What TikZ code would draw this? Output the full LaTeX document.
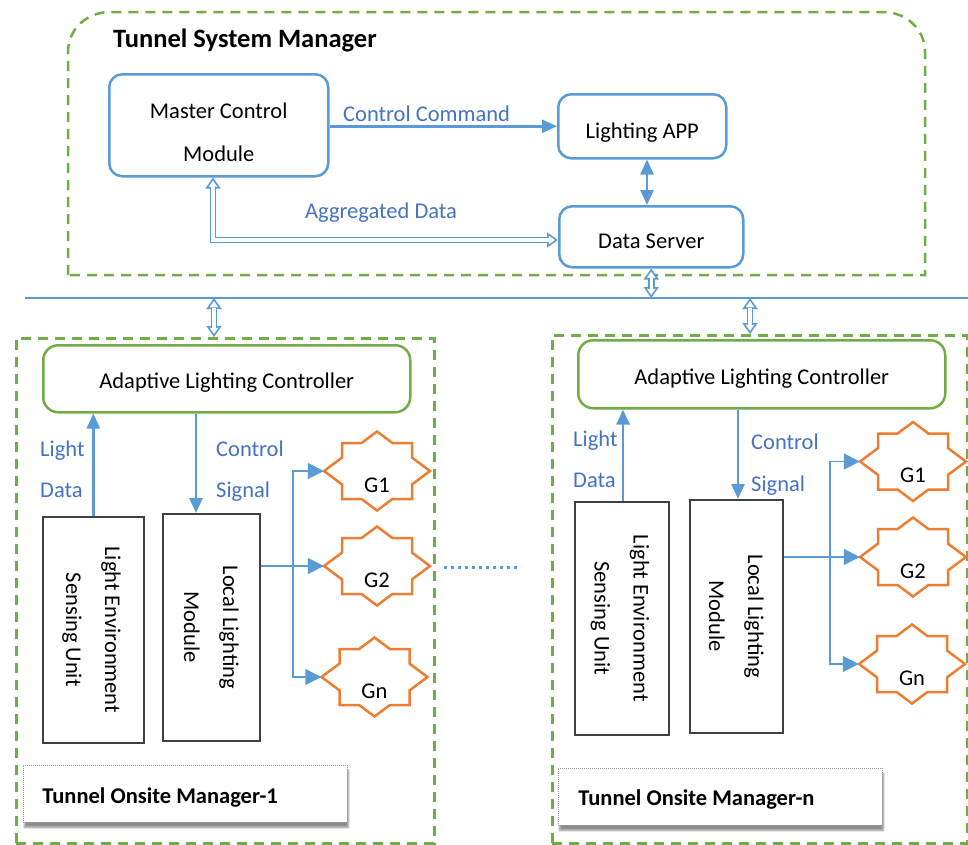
\documentclass[tikz,border=0pt]{standalone}
\usepackage{fontspec}
\setmainfont{Carlito}
\usepackage{graphicx}
\usetikzlibrary{arrows.meta,shadows.blur,calc}

\definecolor{lineblue}{HTML}{5B9BD5}
\definecolor{textblue}{HTML}{4472C4}
\definecolor{boxgreen}{HTML}{70AD47}
\definecolor{staror}{HTML}{ED7D31}
\definecolor{boxgray}{HTML}{404040}

\newcommand{\bodyfont}{\fontsize{22.5}{43}\selectfont}
\newcommand{\vertfont}{\fontsize{22.5}{39}\selectfont}
\newcommand{\titlefont}{\bfseries\fontsize{26.5}{32}\selectfont}
\newcommand{\tomfont}{\bfseries\fontsize{22.5}{27}\selectfont}

% two-line text turned to read from top to bottom
\newcommand{\vtext}[2]{\rotatebox{-90}{\vertfont\begin{tabular}{@{}c@{}}#1\\#2\end{tabular}}}

% eight-point lamp outline round a node centre
\newcommand{\gstar}[1]{%
  \draw[starline, shift={(#1.center)}]
    (-53,0) -- (-35,-13.4) -- (-35,-28) -- (-15.4,-28) -- (0,-39.5)
    -- (15.4,-28) -- (35,-28) -- (35,-13.4) -- (53,0)
    -- (35,13.4) -- (35,28) -- (15.4,28) -- (0,39.5)
    -- (-15.4,28) -- (-35,28) -- (-35,13.4) -- cycle;}

% hollow two-headed link: outlined heads first, then the double shaft over them
\newcommand{\hollowlink}[1]{%
  \draw[hollowtip] #1;
  \draw[hollowshaft] #1;}

\begin{document}
\begin{tikzpicture}[x=1pt,y=-1pt,
  container/.style={draw=boxgreen, line width=2.5pt, dash pattern=on 10pt off 7pt},
  cbox/.style={draw=boxgreen, line width=2.5pt, dash pattern=on 10pt off 7pt,
    anchor=north west, inner sep=0pt},
  bluebox/.style={draw=lineblue, line width=2.5pt, rounded corners=13pt, fill=white,
    font=\bodyfont, align=center, inner sep=0pt, anchor=north west},
  greenbox/.style={draw=boxgreen, line width=2.5pt, rounded corners=15pt, fill=white,
    font=\bodyfont, inner sep=0pt, anchor=north west},
  unitbox/.style={draw=boxgray, line width=1.6pt, fill=white, inner sep=0pt, anchor=north west},
  gnode/.style={minimum width=106pt, minimum height=80pt, inner sep=0pt,
    font=\bodyfont, text height=42pt, text depth=0pt},
  starline/.style={draw=staror, line width=2.5pt, line join=miter},
  lbl/.style={text=textblue, font=\bodyfont, inner sep=0pt, anchor=base west},
  baseoff/.style={text height=#1, text depth=0pt},
  flow/.style={draw=lineblue, line width=2.5pt, -{Triangle[length=15pt,width=13pt]}},
  flowboth/.style={draw=lineblue, line width=2.5pt,
    {Triangle[length=15pt,width=13pt]}-{Triangle[length=15pt,width=13pt]}},
  branch/.style={draw=lineblue, line width=1.5pt, -{Triangle[length=16pt,width=16pt]}},
  hollowtip/.style={draw=lineblue, line width=1.6pt, line join=miter,
    {Triangle[fill=white, length=11pt, width=15pt]}-{Triangle[fill=white, length=11pt, width=15pt]}},
  hollowshaft/.style={draw=lineblue, line width=1.6pt, double=white, double distance=3.4pt,
    shorten <=9.5pt, shorten >=9.5pt},
  busline/.style={draw=lineblue, line width=2pt},
  tombox/.style={draw=gray!80, line width=0.8pt, dash pattern=on 1pt off 1pt, fill=white,
    blur shadow={shadow xshift=1pt, shadow yshift=-5pt, shadow blur steps=6, shadow opacity=45},
    font=\tomfont, anchor=north west, minimum width=324pt, minimum height=57pt,
    inner ysep=0pt}
]
\useasboundingbox (0,0) rectangle (968,844);

% ---------- tunnel system manager ----------
\draw[container] (68,275) -- (68,52) .. controls (68,29) and (87,12) .. (110,12)
  -- (883,12) .. controls (906,12) and (925,29) .. (925,52) -- (925,275) -- cycle;
\node[anchor=base west, font=\titlefont, inner sep=0pt] (tsm) at (113,47) {Tunnel System Manager};

\node[bluebox, minimum width=219pt, minimum height=102pt, text height=72pt, text depth=0pt]
  (mcm) at (108,73) {Master Control\\Module};
\node[bluebox, minimum width=168pt, minimum height=64pt, baseoff=24pt] (app) at (557,93) {Lighting APP};
\node[bluebox, minimum width=184pt, minimum height=61pt, baseoff=23pt] (ds) at (558,205) {Data Server};

\draw[flow] (app.west -| mcm.east) -- (app.west);
\node[lbl] (cclbl) at (343,121) {Control Command};

\coordinate (v1) at (647,180);
\draw[flowboth] (app.south -| v1) -- (ds.north -| v1);

\coordinate (ag) at (213,240);
\hollowlink{(mcm.south -| ag) -- (ag) -- (ds.west |- ag)}
\node[lbl] (aglbl) at (305,218) {Aggregated Data};

% ---------- communication bus ----------
\coordinate (busL) at (25,298);
\coordinate (busR) at (968,298);
\draw[busline] (busL) -- (busR);
\hollowlink{(ds.south) -- (ds.south |- busL)}

% ---------- onsite managers ----------
\node[cbox, minimum width=418pt, minimum height=505pt] (om1) at (15,337) {};
\node[cbox, minimum width=415pt, minimum height=508pt] (om2) at (551,334) {};

\coordinate (bl) at (214,298);
\coordinate (br) at (750,298);
\hollowlink{(bl) -- (bl |- om1.north)}
\hollowlink{(br) -- (br |- om2.north)}

% left manager
\node[greenbox, minimum width=367pt, minimum height=67pt, baseoff=19pt] (alc1) at (42,344) {Adaptive Lighting Controller};
\node[unitbox, minimum width=101pt, minimum height=226pt] (leu1) at (42,516) {\vtext{Light Environment}{Sensing Unit}};
\node[unitbox, minimum width=97pt, minimum height=227pt] (llm1) at (162,513) {\vtext{Local Lighting}{Module}};

\draw[flow] (leu1.north) -- (leu1.north |- alc1.south);
\coordinate (cs1) at (196,460);
\draw[flow] (alc1.south -| cs1) -- (llm1.north -| cs1);
\node[lbl] (ld1a) at (40,456) {Light};
\node[lbl] (ld1b) at (40,497) {Data};
\node[lbl] (cs1a) at (216,456) {Control};
\node[lbl] (cs1b) at (216,497) {Signal};

\node[gnode] (g1a) at (377,471) {G1};
\node[gnode] (g2a) at (377,566) {G2};
\node[gnode] (gna) at (374.5,677) {Gn};
\gstar{g1a}\gstar{g2a}\gstar{gna}

\coordinate (bx1) at (293,566);
\draw[branch] (g2a.west -| llm1.east) -- (g2a.west);
\draw[branch] (bx1) |- (g1a.west);
\draw[branch] (bx1) |- (gna.west);

\node[tombox, inner xsep=19pt, baseoff=19pt] (tom1) at (23,765) {\makebox[286pt][l]{Tunnel Onsite Manager-1}};

% gap between managers
\coordinate (dotL) at (444,567);
\coordinate (dotR) at (521,567);
\draw[draw=lineblue, line width=3pt, dash pattern=on 3pt off 4pt] (dotL) -- (dotR);

% right manager
\node[greenbox, minimum width=367pt, minimum height=68pt, baseoff=20pt] (alc2) at (577,339) {Adaptive Lighting Controller};
\node[unitbox, minimum width=94pt, minimum height=233pt] (leu2) at (574,501) {\vtext{Light Environment}{Sensing Unit}};
\node[unitbox, minimum width=93pt, minimum height=233pt] (llm2) at (689,499) {\vtext{Local Lighting}{Module}};

\coordinate (ld2) at (623,460);
\draw[flow] (leu2.north -| ld2) -- (alc2.south -| ld2);
\coordinate (cs2) at (738,460);
\draw[flow] (alc2.south -| cs2) -- (llm2.north -| cs2);
\node[lbl] (ld2a) at (573,446) {Light};
\node[lbl] (ld2b) at (573,487) {Data};
\node[lbl] (cs2a) at (751,449) {Control};
\node[lbl] (cs2b) at (751,491) {Signal};

\node[gnode] (g1b) at (913,461.5) {G1};
\node[gnode] (g2b) at (913,557) {G2};
\node[gnode] (gnb) at (912,664) {Gn};
\gstar{g1b}\gstar{g2b}\gstar{gnb}

\coordinate (bx2) at (830,557);
\draw[branch] (g2b.west -| llm2.east) -- (g2b.west);
\draw[branch] (bx2) |- (g1b.west);
\draw[branch] (bx2) |- (gnb.west);

\node[tombox, inner xsep=20pt, baseoff=17pt] (tom2) at (558,768) {\makebox[284pt][l]{Tunnel Onsite Manager-n}};
\end{tikzpicture}
\end{document}
